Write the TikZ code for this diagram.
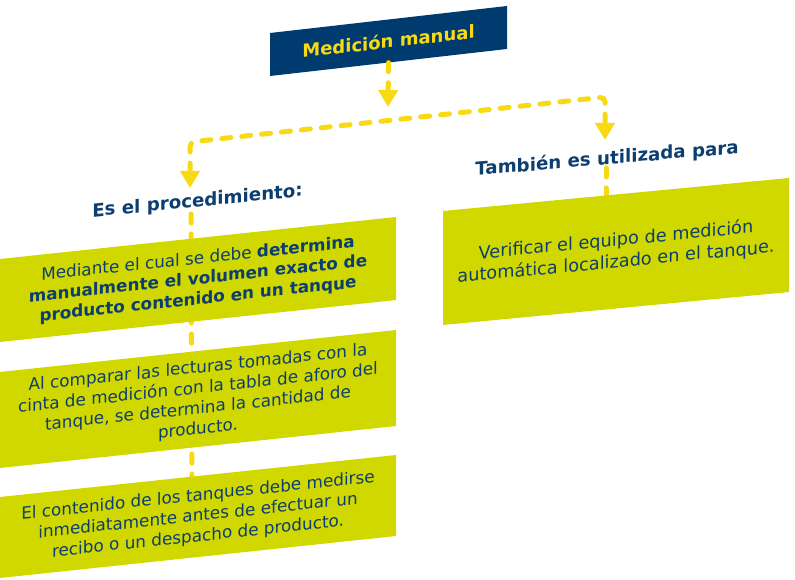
\documentclass[tikz,border=0pt]{standalone}
\usepackage{fontspec}
\setmainfont{DejaVu Sans}
\usetikzlibrary{arrows.meta}
\definecolor{navy}{RGB}{0,59,112}
\definecolor{gold}{RGB}{247,218,20}
\definecolor{lime}{RGB}{209,216,0}
\definecolor{ink}{RGB}{12,62,112}
\tikzset{
  >={Triangle[length=17pt,width=19pt]},
  conn/.style={draw=gold, line width=5pt, dash pattern=on 9pt off 11pt, line cap=round},
  lbox/.style={fill=lime, yslant=0.106, minimum width=396pt, inner sep=0pt, text=ink, align=center, font=\fontsize{16.8}{20.4}\selectfont},
  rbox/.style={fill=lime, yslant=0.0954, minimum width=346pt, minimum height=114pt, inner sep=0pt, text=ink, align=center, font=\fontsize{17.7}{21.6}\selectfont},
  titlebox/.style={fill=navy, yslant=0.114, minimum width=237pt, minimum height=43pt, inner sep=0pt, text=gold, font=\fontsize{18}{22}\selectfont\bfseries},
  head/.style={text=ink, anchor=base, inner sep=0pt, font=\fontsize{18.2}{22}\selectfont\bfseries},
}
\begin{document}
\begin{tikzpicture}[x=1pt,y=-1pt]
\useasboundingbox (0,0) rectangle (795,580);
% title
\node[titlebox] (t) at (388.5,41) {Medición manual};
% junction coordinates
\coordinate (tj) at (388,107);
\coordinate (lc) at (190,142);
\coordinate (la) at (190,188);
\coordinate (rc) at (605,97);
\coordinate (ra) at (605,140);
\coordinate (ls) at (191,214);
\coordinate (le) at (192,478);
\coordinate (rs) at (606,168);
\coordinate (re) at (606,200);
% connectors
\draw[conn,->] (t.south) -- (tj);
\draw[conn,<->,rounded corners=5pt] (la) -- (lc) -- (rc) -- (ra);
\draw[conn] (ls) -- (le);
\draw[conn] (rs) -- (re);
% headings
\node[head, yslant=0.1] (h1) at (197.5,206.7) {Es el procedimiento:};
\node[head, yslant=0.085] (h2) at (607,164.5) {También es utilizada para};
% boxes
\node[lbox, minimum height=83pt] (b1) at (198,279.5)
  {Mediante el cual se debe \textbf{determina}\\
   \textbf{manualmente el volumen exacto de}\\
   \textbf{producto contenido en un tanque}};
\node[lbox, minimum height=96pt] (b2) at (198,399)
  {Al comparar las lecturas tomadas con la\\
   cinta de medición con la tabla de aforo del\\
   tanque, se determina la cantidad de\\
   producto.};
\node[lbox, minimum height=81pt] (b3) at (198,516.5)
  {El contenido de los tanques debe medirse\\
   inmediatamente antes de efectuar un\\
   recibo o un despacho de producto.};
\node[rbox] (r1) at (616,251.5)
  {Verificar el equipo de medición\\
   automática localizado en el tanque.};
\end{tikzpicture}
\end{document}
